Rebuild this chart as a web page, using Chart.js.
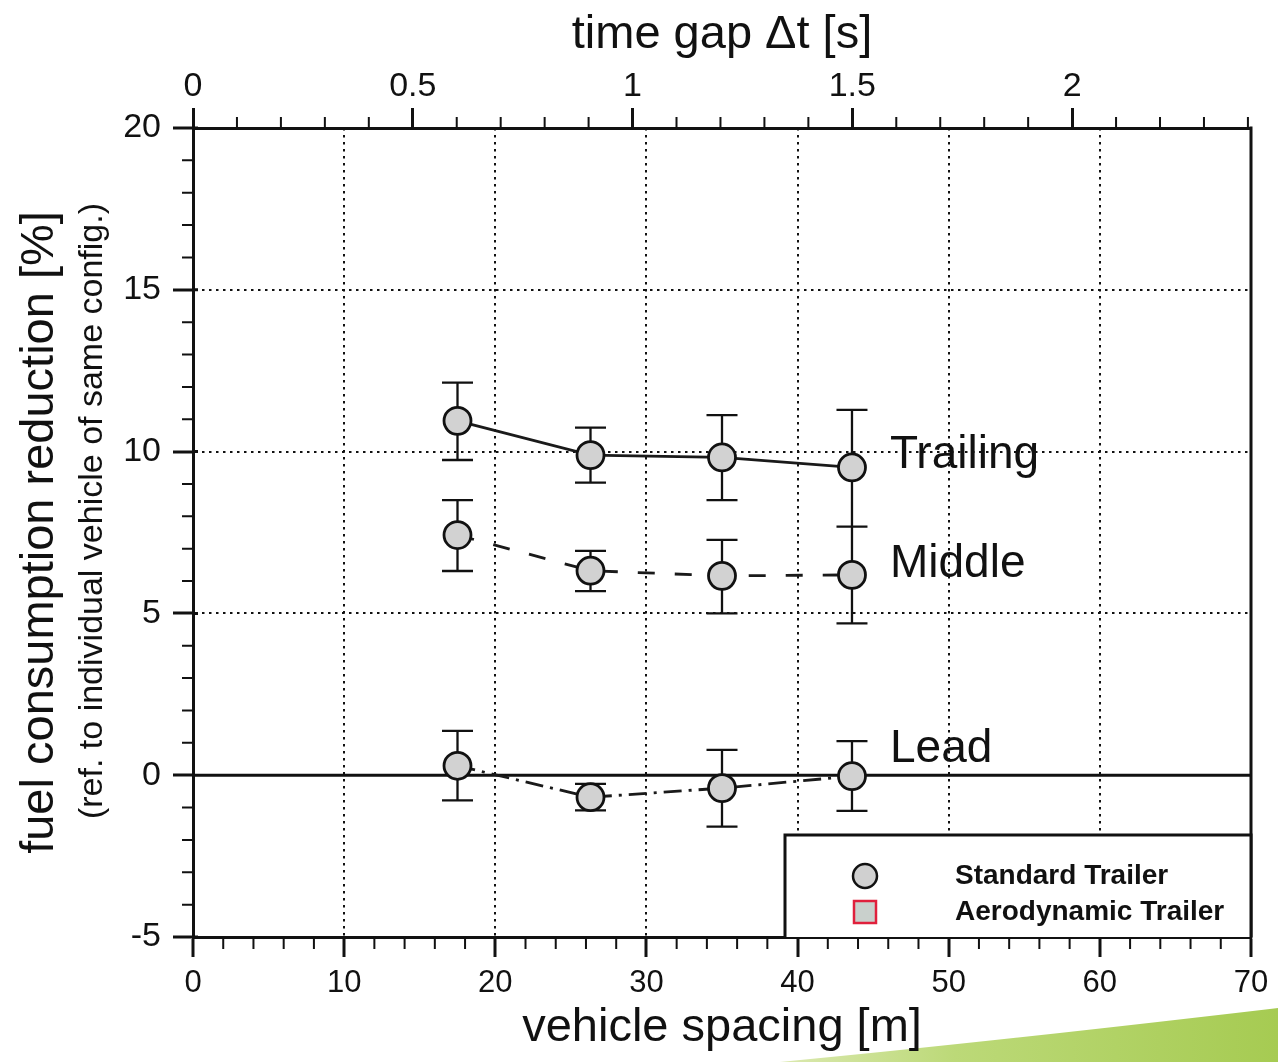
<!DOCTYPE html>
<html>
<head>
<meta charset="utf-8">
<style>
  html, body { margin: 0; padding: 0; background: #fff; }
  #wrap { position: relative; width: 1278px; height: 1062px; overflow: hidden; }
  #swoosh { position: absolute; left: 0; top: 0; }
  #chart { position: absolute; left: 0; top: 0; }
</style>
<script src="https://cdn.jsdelivr.net/npm/chart.js@4.4.1/dist/chart.umd.min.js"></script>
</head>
<body>
<div id="wrap">
  <svg id="swoosh" width="1278" height="1062">
    <defs>
      <linearGradient id="g" x1="0" y1="0" x2="1" y2="0">
        <stop offset="0" stop-color="#dbe9b0"/>
        <stop offset="0.35" stop-color="#bcd978"/>
        <stop offset="1" stop-color="#a6cb52"/>
      </linearGradient>
    </defs>
    <path d="M 780 1062 Q 990 1042 1278 1008 L 1278 1062 Z" fill="url(#g)"/>
  </svg>
  <canvas id="chart" width="1278" height="1062"></canvas>
</div>
<script>
const spacing = [17.5, 26.3, 35.0, 43.6];

const trailing = [10.95, 9.89, 9.82, 9.51];
const trailingLow = [9.74, 9.04, 8.50, 7.68];
const trailingHigh = [12.13, 10.74, 11.13, 11.29];

const middle = [7.42, 6.32, 6.16, 6.19];
const middleLow = [6.31, 5.69, 5.00, 4.69];
const middleHigh = [8.50, 6.93, 7.27, 7.68];

const lead = [0.29, -0.68, -0.40, -0.03];
const leadLow = [-0.78, -1.09, -1.59, -1.10];
const leadHigh = [1.37, -0.27, 0.78, 1.05];

const seriesNames = ['Trailing', 'Middle', 'Lead'];
const legendLabels = ['Standard Trailer', 'Aerodynamic Trailer'];

const spacingTicks = [0, 10, 20, 30, 40, 50, 60, 70];
const timeGapTicks = [0, 0.5, 1, 1.5, 2];
const reductionTicks = [-5, 0, 5, 10, 15, 20];

const FONT = "'Liberation Sans', Arial, Helvetica, sans-serif";
const INK = '#111';

const toPoints = (ys) => ys.map((y, i) => ({ x: spacing[i], y }));

const seriesStyle = [
  { dash: [], labelDy: 1 },
  { dash: [17, 20], labelDy: 2 },
  { dash: [18, 7, 3, 7], labelDy: -14 }
];
const errorBars = [
  [trailingLow, trailingHigh],
  [middleLow, middleHigh],
  [leadLow, leadHigh]
];

// minor ticks, zero line, right frame, error bars
const underlay = {
  id: 'underlay',
  beforeDatasetsDraw(chart) {
    const { ctx, chartArea: a, scales } = chart;
    const x = scales.x, y = scales.y, top = scales.x2;
    ctx.save();
    ctx.strokeStyle = INK;
    ctx.lineWidth = 2;
    ctx.beginPath();
    for (let v = 2; v < 70; v += 2) {
      if (v % 10 === 0) continue;
      const px = x.getPixelForValue(v);
      ctx.moveTo(px, a.bottom);
      ctx.lineTo(px, a.bottom + 12);
    }
    for (let k = 1; k <= 24; k++) {
      if (k % 5 === 0) continue;
      const px = top.getPixelForValue(k / 10);
      ctx.moveTo(px, a.top);
      ctx.lineTo(px, a.top - 11);
    }
    for (let v = -4; v < 20; v++) {
      if (v % 5 === 0) continue;
      const py = y.getPixelForValue(v);
      ctx.moveTo(a.left, py);
      ctx.lineTo(a.left - 11, py);
    }
    ctx.stroke();

    ctx.lineWidth = 3;
    ctx.beginPath();
    const y0 = y.getPixelForValue(0);
    ctx.moveTo(a.left, y0);
    ctx.lineTo(a.right, y0);
    ctx.moveTo(a.right, a.top - 1.5);
    ctx.lineTo(a.right, a.bottom + 1.5);
    // major y ticks poke slightly into the plot
    reductionTicks.forEach((v) => {
      const py = y.getPixelForValue(v);
      ctx.moveTo(a.left, py);
      ctx.lineTo(a.left + 5, py);
    });
    ctx.stroke();

    ctx.lineWidth = 2.3;
    ctx.beginPath();
    errorBars.forEach(([lo, hi]) => {
      spacing.forEach((s, i) => {
        const px = x.getPixelForValue(s);
        const p1 = y.getPixelForValue(lo[i]);
        const p2 = y.getPixelForValue(hi[i]);
        ctx.moveTo(px, p1);
        ctx.lineTo(px, p2);
        ctx.moveTo(px - 15.5, p1);
        ctx.lineTo(px + 15.5, p1);
        ctx.moveTo(px - 15.5, p2);
        ctx.lineTo(px + 15.5, p2);
      });
    });
    ctx.stroke();
    ctx.restore();
  }
};

// series names, legend box, y sub-title
const overlay = {
  id: 'overlay',
  afterDatasetsDraw(chart) {
    const { ctx, chartArea: a } = chart;
    ctx.save();
    ctx.fillStyle = INK;
    ctx.font = `46px ${FONT}`;
    ctx.textBaseline = 'alphabetic';
    ctx.textAlign = 'left';
    chart.data.datasets.forEach((ds, i) => {
      const pts = chart.getDatasetMeta(i).data;
      const last = pts[pts.length - 1];
      ctx.fillText(seriesNames[i], last.x + 38, last.y + seriesStyle[i].labelDy);
    });

    // legend
    const bx = a.right - 466, by = a.bottom - 102;
    ctx.fillStyle = '#fff';
    ctx.fillRect(bx, by, a.right - bx, a.bottom - by);
    ctx.strokeStyle = INK;
    ctx.lineWidth = 3;
    ctx.beginPath();
    ctx.moveTo(bx, a.bottom);
    ctx.lineTo(bx, by);
    ctx.lineTo(a.right, by);
    ctx.lineTo(a.right, a.bottom);
    ctx.stroke();

    ctx.lineWidth = 2.5;
    ctx.fillStyle = '#d0d0d0';
    ctx.beginPath();
    ctx.arc(bx + 80, by + 41, 12, 0, Math.PI * 2);
    ctx.fill();
    ctx.stroke();

    ctx.fillStyle = '#c9d0cc';
    ctx.strokeStyle = '#e0203c';
    ctx.fillRect(bx + 69, by + 66, 22, 22);
    ctx.strokeRect(bx + 69, by + 66, 22, 22);

    ctx.fillStyle = INK;
    ctx.font = `bold 28px ${FONT}`;
    ctx.fillText(legendLabels[0], bx + 170, by + 49);
    ctx.fillText(legendLabels[1], bx + 170, by + 85);

    // secondary y title
    ctx.translate(93, 511);
    ctx.rotate(-Math.PI / 2);
    ctx.textAlign = 'center';
    ctx.textBaseline = 'middle';
    ctx.font = `34px ${FONT}`;
    ctx.fillText('(ref. to individual vehicle of same config.)', 0, 0);
    ctx.restore();
  }
};

const dashedGrid = (lo, hi) => (c) =>
  (c.tick && c.tick.value > lo && c.tick.value < hi) ? INK : 'rgba(0,0,0,0)';

new Chart(document.getElementById('chart'), {
  type: 'line',
  data: {
    datasets: [trailing, middle, lead].map((vals, i) => ({
      label: seriesNames[i],
      data: toPoints(vals),
      xAxisID: 'x',
      yAxisID: 'y',
      borderColor: '#1a1a1a',
      borderWidth: 2.8,
      borderDash: seriesStyle[i].dash,
      pointRadius: 13.5,
      pointBorderWidth: 2.8,
      pointBorderColor: INK,
      pointBackgroundColor: '#d2d2d2',
      fill: false,
      tension: 0
    }))
  },
  options: {
    responsive: false,
    animation: false,
    devicePixelRatio: 1,
    layout: { padding: { left: 0, top: 0, right: 27, bottom: 0 } },
    plugins: {
      legend: { display: false },
      tooltip: { enabled: false }
    },
    scales: {
      x: {
        type: 'linear',
        position: 'bottom',
        min: 0,
        max: 70,
        afterBuildTicks: (s) => { s.ticks = spacingTicks.map((v) => ({ value: v })); },
        afterFit: (s) => { s.height = 125; s.paddingLeft = 0; s.paddingRight = 0; },
        ticks: {
          color: INK,
          font: { family: FONT, size: 31 },
          padding: 8,
          maxRotation: 0,
          callback: (v) => String(v)
        },
        grid: {
          color: dashedGrid(0, 70),
          lineWidth: 2,
          tickColor: INK,
          tickWidth: 3,
          tickLength: 20
        },
        border: { color: INK, width: 3, dash: [2.5, 4.5] },
        title: {
          display: true,
          text: 'vehicle spacing [m]',
          color: INK,
          font: { family: FONT, size: 47 },
          padding: { top: 0, bottom: 6 }
        }
      },
      x2: {
        type: 'linear',
        position: 'top',
        min: 0,
        max: 2.407,
        afterBuildTicks: (s) => { s.ticks = timeGapTicks.map((v) => ({ value: v })); },
        afterFit: (s) => { s.height = 128; s.paddingLeft = 0; s.paddingRight = 0; },
        ticks: {
          color: INK,
          font: { family: FONT, size: 34 },
          padding: 1,
          maxRotation: 0,
          callback: (v) => String(v)
        },
        grid: {
          drawOnChartArea: false,
          tickColor: INK,
          tickWidth: 3,
          tickLength: 20
        },
        border: { color: INK, width: 3 },
        title: {
          display: true,
          text: 'time gap Δt [s]',
          color: INK,
          font: { family: FONT, size: 47 },
          padding: { top: 7, bottom: 0 }
        }
      },
      y: {
        type: 'linear',
        position: 'left',
        min: -5,
        max: 20,
        afterBuildTicks: (s) => { s.ticks = reductionTicks.map((v) => ({ value: v })); },
        afterFit: (s) => { s.width = 193; s.paddingTop = 0; s.paddingBottom = 0; },
        ticks: {
          color: INK,
          font: { family: FONT, size: 34 },
          padding: 12,
          callback: (v) => String(v)
        },
        grid: {
          color: dashedGrid(0, 20),
          lineWidth: 2,
          tickColor: INK,
          tickWidth: 3,
          tickLength: 20
        },
        border: { color: INK, width: 3, dash: [2.5, 4.5] },
        title: {
          display: true,
          text: 'fuel consumption reduction [%]',
          color: INK,
          font: { family: FONT, size: 47 },
          padding: { top: 12, bottom: 0 }
        }
      }
    }
  },
  plugins: [underlay, overlay]
});
</script>
</body>
</html>
